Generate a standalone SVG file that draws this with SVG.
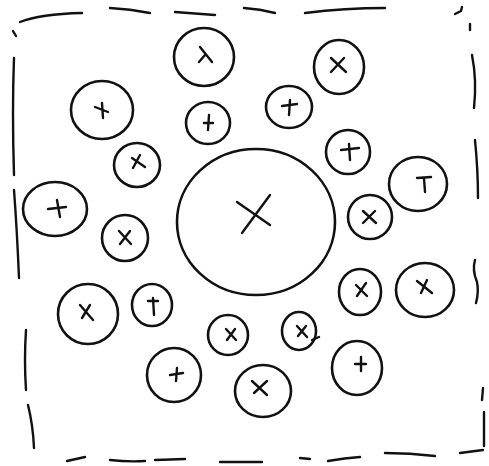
<svg xmlns="http://www.w3.org/2000/svg" width="489" height="466" viewBox="0 0 489 466">
<style>
.c{fill:none;stroke:#111;stroke-width:2.6}
.m{fill:none;stroke:#111;stroke-width:2.4;stroke-linecap:round}
.f{fill:none;stroke:#111;stroke-width:2.4;stroke-linecap:round}
</style>
<rect width="489" height="466" fill="#fff"/>
<g id="frame">
<path class="f" d="M20,22 Q40,14 82,13"/>
<path class="f" d="M110,8 Q130,9 150,13"/>
<path class="f" d="M175,12 L215,15"/>
<path class="f" d="M244,8 Q260,9 275,13"/>
<path class="f" d="M305,13 Q345,8 385,8"/>
<path class="f" d="M455,14 L461,11 L462,7"/>
<path class="f" d="M13,31 L16,36"/>
<path class="f" d="M14,58 Q12,110 14,175"/>
<path class="f" d="M14,190 Q17,230 19,278"/>
<path class="f" d="M26,330 Q24,360 26,390"/>
<path class="f" d="M28,405 Q33,425 34,448"/>
<path class="f" d="M67,461 L85,457"/>
<path class="f" d="M110,460 Q128,462 145,461"/>
<path class="f" d="M155,460 L185,459"/>
<path class="f" d="M220,462 L262,462"/>
<path class="f" d="M300,458 L310,459"/>
<path class="f" d="M328,461 Q345,458 360,457"/>
<path class="f" d="M385,453 Q410,453 435,456"/>
<path class="f" d="M460,453 L483,450"/>
<path class="f" d="M470,24 L470,30"/>
<path class="f" d="M472,55 Q477,80 474,108"/>
<path class="f" d="M475,140 Q478,170 478,198"/>
<path class="f" d="M475,260 Q472,270 477,282 Q479,292 476,303"/>
<path class="f" d="M483,388 L482,400"/>
<path class="f" d="M484,412 L484,446"/>
</g>
<g id="connectors"></g>
<g id="n-center"><ellipse class="c" cx="256" cy="222" rx="79" ry="73"/><path class="m" d="M237,202 L270,225 M270,195 L242,233"/></g>
<g id="n1"><ellipse class="c" cx="204" cy="57" rx="30" ry="29"/><path class="m" d="M200,47 L212,62 M205,55 L199,62"/></g>
<g id="n2"><ellipse class="c" cx="102" cy="110" rx="31" ry="29"/><path class="m" d="M95,107 L108,112 M102,103 L103,118"/></g>
<g id="n3"><ellipse class="c" cx="208" cy="123" rx="22" ry="21"/><path class="m" d="M204,123 L213,123 M209,115 L208,130"/></g>
<g id="n4"><ellipse class="c" cx="137" cy="165" rx="23" ry="22"/><path class="m" d="M132,158 L145,167 M140,155 L133,168"/></g>
<g id="n5"><ellipse class="c" cx="55" cy="209" rx="32" ry="27"/><path class="m" d="M48,209 L66,207 M57,200 L60,217"/></g>
<g id="n6"><ellipse class="c" cx="339" cy="67" rx="25" ry="27"/><path class="m" d="M331,58 L346,72 M344,58 L331,72"/></g>
<g id="n7"><ellipse class="c" cx="289" cy="107" rx="23" ry="21"/><path class="m" d="M282,106 L297,104 M290,100 L289,115"/></g>
<g id="n8"><ellipse class="c" cx="348" cy="152" rx="22" ry="22"/><path class="m" d="M341,150 L359,148 M349,144 L350,160"/></g>
<g id="n9"><ellipse class="c" cx="418" cy="184" rx="29" ry="27"/><path class="m" d="M417,178 L431,177 M424,178 L425,192"/></g>
<g id="n10"><ellipse class="c" cx="370" cy="217" rx="22" ry="22"/><path class="m" d="M363,211 L376,223 M375,211 L363,223"/></g>
<g id="n11"><ellipse class="c" cx="125" cy="238" rx="23" ry="23"/><path class="m" d="M119,231 L131,244 M130,231 L120,244"/></g>
<g id="n12"><ellipse class="c" cx="88" cy="314" rx="30" ry="30"/><path class="m" d="M80,305 L93,320 M90,305 L82,318"/></g>
<g id="n13"><ellipse class="c" cx="152" cy="305" rx="20" ry="21"/><path class="m" d="M148,301 L158,301 M153,298 L154,315"/></g>
<g id="n14"><ellipse class="c" cx="228" cy="335" rx="20" ry="20"/><path class="m" d="M226,329 L236,340 M235,329 L227,340"/></g>
<g id="n15"><ellipse class="c" cx="174" cy="375" rx="27" ry="27"/><path class="m" d="M170,375 L183,373 M177,368 L176,381"/></g>
<g id="n16"><ellipse class="c" cx="263" cy="391" rx="28" ry="26"/><path class="m" d="M252,381 L267,395 M267,381 L254,393"/></g>
<g id="n17"><ellipse class="c" cx="299" cy="331" rx="17" ry="19"/><path class="m" d="M297,326 L307,337 M306,326 L298,336 M312,340 L319,337"/></g>
<g id="n18"><ellipse class="c" cx="360" cy="292" rx="21" ry="23"/><path class="m" d="M356,285 L367,296 M366,283 L357,296"/></g>
<g id="n19"><ellipse class="c" cx="425" cy="290" rx="29" ry="27"/><path class="m" d="M417,281 L432,293 M427,280 L421,293"/></g>
<g id="n20"><ellipse class="c" cx="357" cy="368" rx="25" ry="27"/><path class="m" d="M355,364 L366,364 M361,357 L361,371"/></g>
</svg>
